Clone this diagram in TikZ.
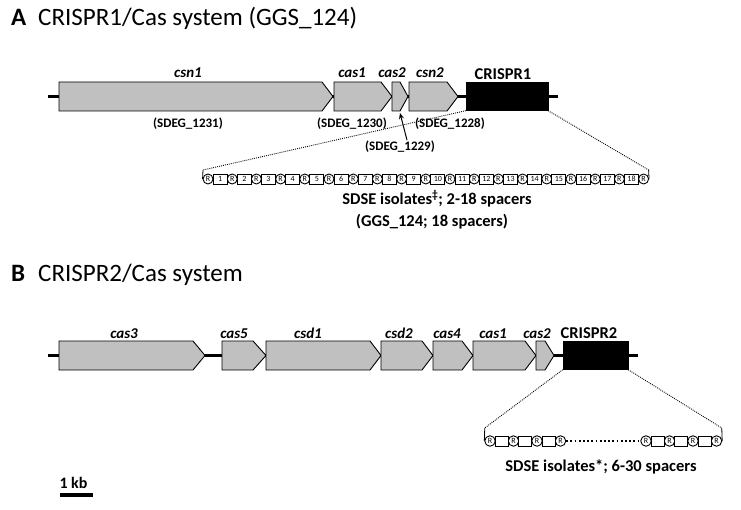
\documentclass[tikz,border=0pt]{standalone}
\usepackage{fontspec}
\setmainfont{Carlito}
\usetikzlibrary{arrows.meta,calc}
\definecolor{genegray}{RGB}{192,192,192}
\tikzset{
  genebody/.style={draw=black, fill=genegray, line width=0.9pt, line join=miter},
  backbone/.style={line width=2.5pt},
  crisprbox/.style={draw=black, fill=black, inner sep=0pt, minimum height=28pt},
  genelab/.style={font=\fontsize{15}{15}\selectfont\bfseries\itshape, anchor=base, inner sep=0pt},
  crlab/.style={font=\fontsize{16.5}{16.5}\selectfont\bfseries, anchor=base, inner sep=0pt},
  locus/.style={font=\fontsize{13}{13}\selectfont\bfseries, anchor=base, inner sep=0pt},
  note/.style={font=\fontsize{16.5}{16.5}\selectfont\bfseries, anchor=base, inner sep=0pt},
  titlelab/.style={font=\fontsize{25}{25}\selectfont, anchor=base west, inner sep=0pt},
  zoomline/.style={line width=0.9pt, dash pattern=on 0.9pt off 1.1pt},
  tickline/.style={line width=0.8pt},
  gapdots/.style={line width=1.8pt, dash pattern=on 1.8pt off 2.4pt},
  repeatA/.style={circle, draw, line width=0.9pt, fill=white, inner sep=0pt, minimum size=10pt, font=\fontsize{8}{8}\selectfont},
  spacerA/.style={rectangle, draw, line width=0.9pt, fill=white, inner sep=0pt, minimum width=14pt, minimum height=10pt, font=\fontsize{8}{8}\selectfont},
  repeatB/.style={circle, draw, line width=0.9pt, fill=white, inner sep=0pt, minimum size=10.5pt, font=\fontsize{8}{8}\selectfont},
  spacerB/.style={rectangle, draw, line width=0.9pt, fill=white, inner sep=0pt, minimum width=13pt, minimum height=10pt},
  pointer/.style={line width=1pt, -{Stealth[length=6pt,width=5pt]}},
}
% #1 name, #2 x start, #3 x tip, #4 tip length, #5 y top, #6 y bottom
\newcommand\genearrow[6]{%
  \draw[genebody] (#2,#5) -- ({#3-#4},#5) -- (#3,{(#5+#6)/2}) -- ({#3-#4},#6) -- (#2,#6) -- cycle;
  \coordinate (#1) at ({(#2+#3)/2},{(#5+#6)/2});
}
\begin{document}
\begin{tikzpicture}[x=1pt,y=-1pt]
\useasboundingbox (0,0) rectangle (741,510);

% ---------------- Panel A ----------------
\node[titlelab, font=\fontsize{25}{25}\selectfont\bfseries] (lblA) at (11,26) {A};
\node[titlelab] (titleA) at (38,26) {CRISPR1/Cas system (GGS\_124)};

\draw[backbone] (48,96.5) -- (558,96.5);
\genearrow{csnOne}{59}{333}{11}{82}{111}
\genearrow{casOneA}{334}{392}{11}{82}{111}
\genearrow{casTwoA}{392}{408}{8}{82}{111}
\genearrow{csnTwo}{409}{458}{11}{82}{111}
\node[crisprbox, minimum width=82pt] (crA) at (507,96.5) {};

\node[genelab] (tcsn1) at (188,78) {csn1};
\node[genelab] (tcas1A) at (352,78) {cas1};
\node[genelab] (tcas2A) at (392,78) {cas2};
\node[genelab] (tcsn2) at (430,78) {csn2};
\node[crlab] (tcrA) at (503,80) {CRISPR1};

\node[locus] (l1231) at (188,127.5) {(SDEG\_1231)};
\node[locus] (l1230) at (352,127.5) {(SDEG\_1230)};
\node[locus] (l1228) at (450,127.5) {(SDEG\_1228)};
\node[locus] (l1229) at (400,151) {(SDEG\_1229)};
\coordinate (cas2Atip) at (400,113);
\draw[pointer] ($(l1229.north)+(7,-1)$) -- (cas2Atip);

% spacer array A
\foreach \i in {0,...,18} {
  \node[repeatA] (rA\i) at ({208+24.2*\i},179) {R};
}
\foreach \i in {1,...,18} {
  \node[spacerA] (sA\i) at ({208+24.2*(\i-1)+12.1},179) {\i};
}
\coordinate (bAl) at (203,170);
\coordinate (bAr) at (648.6,170);
\draw[zoomline] (crA.south west) -- (bAl);
\draw[tickline] (bAl) -- (rA0.west);
\draw[zoomline] (crA.south east) -- (bAr);
\draw[tickline] (bAr) -- (rA18.east);

\node[note] (noteA1) at (437,205) {SDSE isolates\textsuperscript{‡}; 2-18 spacers};
\node[note] (noteA2) at (432,227) {(GGS\_124; 18 spacers)};

% ---------------- Panel B ----------------
\node[titlelab, font=\fontsize{25}{25}\selectfont\bfseries] (lblB) at (11,282) {B};
\node[titlelab] (titleB) at (38,282) {CRISPR2/Cas system};

\draw[backbone] (48,355.5) -- (638,355.5);
\genearrow{casThree}{59}{205}{12}{341}{370}
\genearrow{casFive}{222}{266}{13}{341}{370}
\genearrow{csdOne}{266}{381}{11}{341}{370}
\genearrow{csdTwo}{381}{433}{11}{341}{370}
\genearrow{casFour}{433}{473}{11}{341}{370}
\genearrow{casOneB}{473}{536}{11}{341}{370}
\genearrow{casTwoB}{536}{554}{9}{341}{370}
\node[crisprbox, minimum width=65pt] (crB) at (595.5,355.5) {};

\node[genelab] (tcas3) at (124,338) {cas3};
\node[genelab] (tcas5) at (234,338) {cas5};
\node[genelab] (tcsd1) at (308,338) {csd1};
\node[genelab] (tcsd2) at (399,338) {csd2};
\node[genelab] (tcas4) at (447,338) {cas4};
\node[genelab] (tcas1B) at (493,338) {cas1};
\node[genelab] (tcas2B) at (537,338) {cas2};
\node[crlab] (tcrB) at (589,338) {CRISPR2};

% spacer array B
\foreach \x [count=\k] in {490,513.5,537,560.5,646,669.5,693,716.5} {
  \node[repeatB] (rB\k) at (\x,441) {R};
}
\foreach \x [count=\k] in {501.75,525.25,548.75,657.75,681.25,704.75} {
  \node[spacerB] (sB\k) at (\x,441) {};
}
\draw[gapdots] (rB4.east) -- (rB5.west);
\coordinate (bBl) at (484.75,428);
\coordinate (bBr) at (721.75,428);
\draw[zoomline] (crB.south west) -- (bBl);
\draw[tickline] (bBl) -- (rB1.west);
\draw[zoomline] (crB.south east) -- (bBr);
\draw[tickline] (bBr) -- (rB8.east);

\node[note] (noteB) at (601,471) {SDSE isolates*; 6-30 spacers};

% scale bar
\node[note, font=\fontsize{16}{16}\selectfont\bfseries] (kb) at (73.5,488) {1 kb};
\node[fill=black, inner sep=0pt, minimum width=33pt, minimum height=3.5pt] (bar) at (76.5,495) {};
\end{tikzpicture}
\end{document}
